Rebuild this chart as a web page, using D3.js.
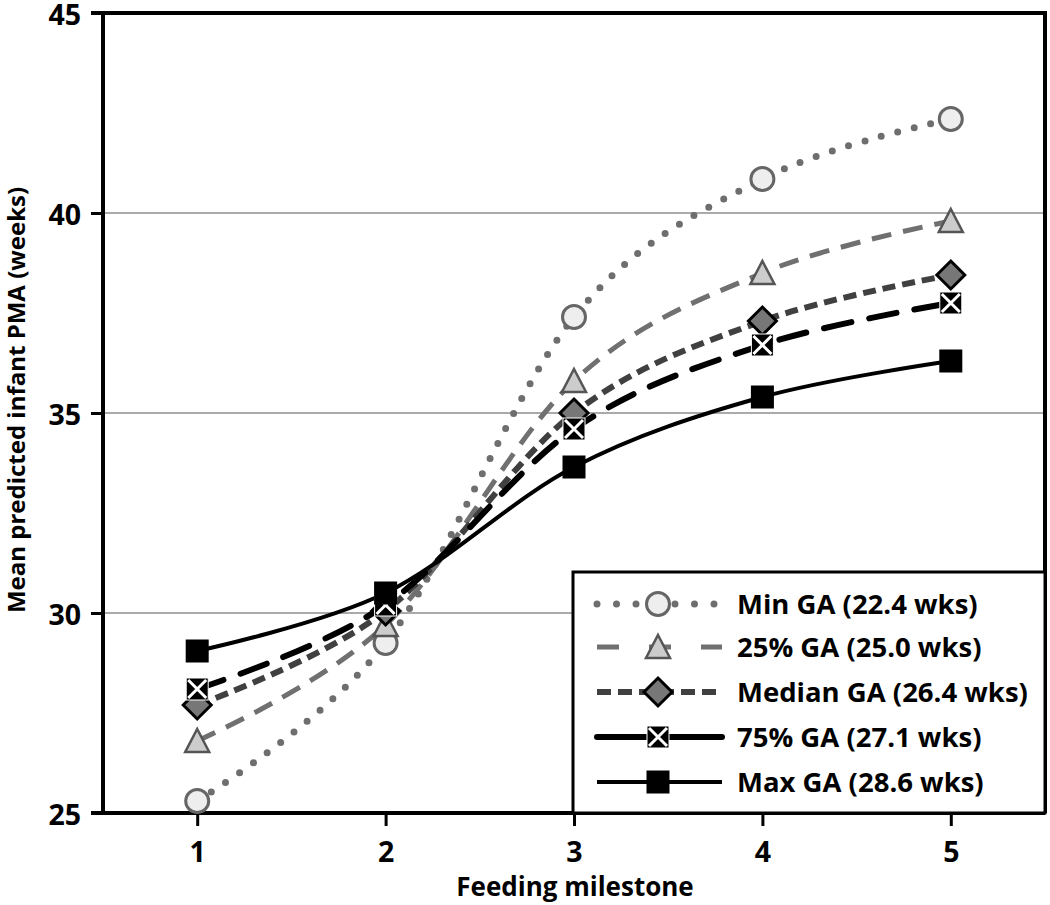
<!DOCTYPE html>
<html><head><meta charset="utf-8">
<script src="https://cdn.jsdelivr.net/npm/d3@7"></script>
<style>
html,body{margin:0;padding:0;background:#fff;}
svg{display:block;font-family:"Open Sans",Lato,sans-serif;font-weight:bold;}
</style></head>
<body>
<svg id="chart" width="1050" height="905"></svg>
<script>
const milestones = [1, 2, 3, 4, 5];
const seriesNames = ["Min GA (22.4 wks)", "25% GA (25.0 wks)", "Median GA (26.4 wks)", "75% GA (27.1 wks)", "Max GA (28.6 wks)"];
const minGA    = [25.3, 29.25, 37.4, 40.85, 42.35];
const p25GA    = [26.8, 29.7, 35.8, 38.5, 39.8];
const medianGA = [27.7, 30.05, 35.0, 37.3, 38.45];
const p75GA    = [28.1, 30.2, 34.6, 36.7, 37.75];
const maxGA    = [29.05, 30.5, 33.65, 35.4, 36.3];
const yTicks = [25, 30, 35, 40, 45];

const svg = d3.select("#chart");
const L = 103, R = 1045, T = 13, B = 813;
const x = d3.scaleLinear().domain([0.5, 5.5]).range([L, R]);
const y = d3.scaleLinear().domain([25, 45]).range([B, T]);

// gridlines
svg.append("g").selectAll("line").data([30, 35, 40]).join("line")
  .attr("x1", L).attr("x2", R).attr("y1", d => y(d)).attr("y2", d => y(d))
  .attr("stroke", "#aaa").attr("stroke-width", 2);

// frame top/right
svg.append("path").attr("d", `M${L},${T}H${R}V${B}`).attr("fill", "none")
  .attr("stroke", "#000").attr("stroke-width", 4);

// axes
const yAxis = svg.append("g").attr("transform", `translate(${L},0)`)
  .call(d3.axisLeft(y).tickValues(yTicks).tickFormat(d3.format("d")).tickSize(12).tickPadding(10));
const xAxis = svg.append("g").attr("transform", `translate(0,${B})`)
  .call(d3.axisBottom(x).tickValues(milestones).tickFormat(d3.format("d")).tickSize(13).tickPadding(16));
[yAxis, xAxis].forEach(g => {
  g.select(".domain").attr("stroke", "#000").attr("stroke-width", 4);
  g.selectAll(".tick line").attr("stroke", "#000").attr("stroke-width", 3);
  g.selectAll(".tick text").attr("fill", "#000").style("font-size", "28.5px")
    .style("font-family", "'Open Sans'").style("font-weight", "bold");
});
yAxis.select(".domain").attr("d", `M-12,${B}H0V${T}H-12`);
xAxis.select(".domain").attr("d", `M${L},0H${R}`);
yAxis.selectAll(".tick text").attr("dy", "0.4em");

// axis titles
svg.append("text").attr("x", 575).attr("y", 896).attr("text-anchor", "middle")
  .style("font-size", "26px").text("Feeding milestone");
svg.append("text").attr("transform", "translate(25,400) rotate(-90)").attr("text-anchor", "middle")
  .style("font-size", "24px").text("Mean predicted infant PMA (weeks)");

const styles = [
  {vals: minGA, stroke: "#6e6e6e", width: 7, dash: "0 17", cap: "round", marker: "circle", fill: "#eeeeee", mstroke: "#666"},
  {vals: p25GA, stroke: "#707070", width: 5, dash: "20 12", cap: "butt", marker: "triangle", fill: "#cccccc", mstroke: "#555"},
  {vals: medianGA, stroke: "#404040", width: 6, dash: "13 7", cap: "butt", marker: "diamond", fill: "#777777", mstroke: "#000"},
  {vals: p75GA, stroke: "#000000", width: 6, dash: "28 18", cap: "round", marker: "xsquare", fill: "#000", mstroke: "#fff"},
  {vals: maxGA, stroke: "#000000", width: 4, dash: null, cap: "butt", marker: "square", fill: "#000", mstroke: "#000"}
];

const line = d3.line().x((d, i) => x(milestones[i])).y(d => y(d)).curve(d3.curveCardinal.tension(0));

function drawMarker(g, type, cx, cy, s) {
  const m = g.append("g").attr("transform", `translate(${cx},${cy})`);
  if (type === "circle") {
    m.append("circle").attr("r", 11.5).attr("fill", s.fill).attr("stroke", s.mstroke).attr("stroke-width", 3);
  } else if (type === "triangle") {
    m.append("path").attr("d", "M0,-12L12,11L-12,11Z").attr("fill", s.fill).attr("stroke", s.mstroke).attr("stroke-width", 2.5);
  } else if (type === "diamond") {
    m.append("path").attr("d", "M0,-14L14,0L0,14L-14,0Z").attr("fill", s.fill).attr("stroke", s.mstroke).attr("stroke-width", 3);
  } else if (type === "xsquare") {
    m.append("rect").attr("x", -11).attr("y", -11).attr("width", 22).attr("height", 22).attr("fill", "#000").attr("stroke", "#fff").attr("stroke-width", 1);
    m.append("path").attr("d", "M-9,-9L9,9M9,-9L-9,9").attr("stroke", "#fff").attr("stroke-width", 3);
  } else if (type === "square") {
    m.append("rect").attr("x", -11.5).attr("y", -11.5).attr("width", 23).attr("height", 23).attr("fill", "#000");
  }
}

const plot = svg.append("g");
styles.forEach(s => {
  plot.append("path").attr("d", line(s.vals)).attr("fill", "none")
    .attr("stroke", s.stroke).attr("stroke-width", s.width)
    .attr("stroke-dasharray", s.dash).attr("stroke-linecap", s.cap);
});
styles.forEach(s => {
  s.vals.forEach((v, i) => drawMarker(plot, s.marker, x(milestones[i]), y(v), s));
});

// legend
const lg = svg.append("g");
lg.append("rect").attr("x", 573).attr("y", 572).attr("width", 472).attr("height", 241)
  .attr("fill", "#fff").attr("stroke", "#000").attr("stroke-width", 3);
const rowY = [604, 647, 692, 737, 782];
const legendDash = ["0 19.5", "22 30", "14 7", null, null];
styles.forEach((s, i) => {
  const yy = rowY[i];
  lg.append("line").attr("x1", 597).attr("x2", 722).attr("y1", yy).attr("y2", yy)
    .attr("stroke", s.stroke).attr("stroke-width", s.width)
    .attr("stroke-dasharray", legendDash[i]).attr("stroke-linecap", s.cap);
  drawMarker(lg, s.marker, 658, yy, s);
  lg.append("text").attr("x", 737).attr("y", yy).attr("dy", "0.36em")
    .style("font-size", "27.5px").text(seriesNames[i]);
});
</script>
</body></html>
